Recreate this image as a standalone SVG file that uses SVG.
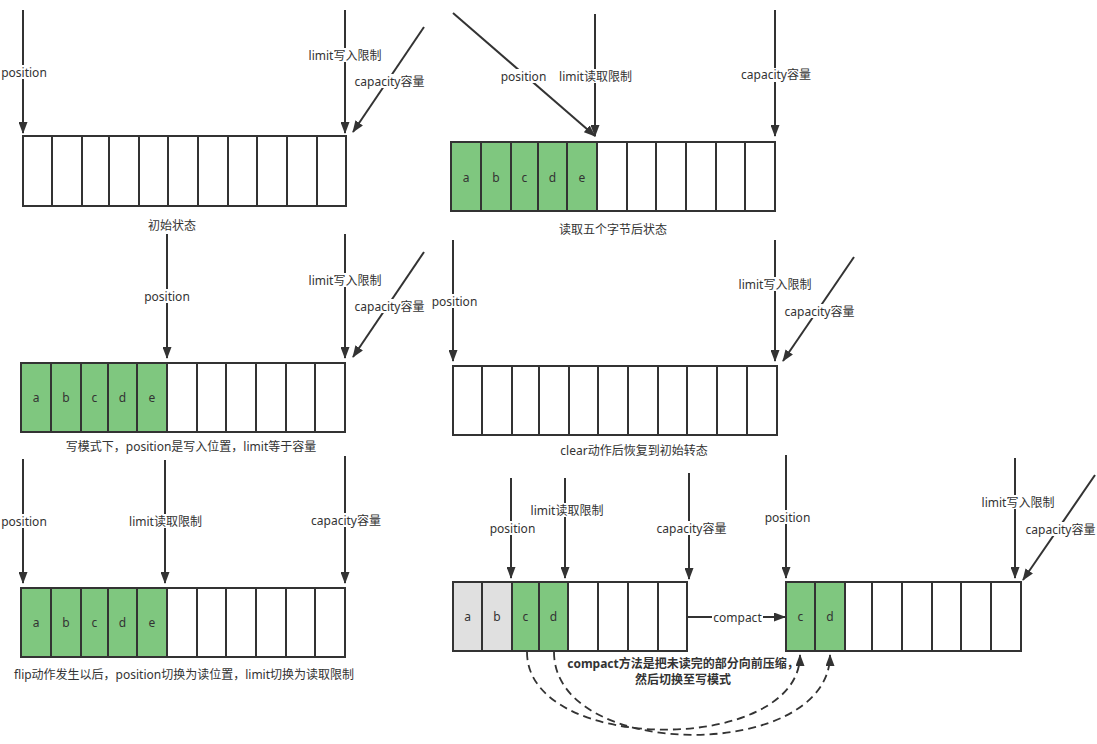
<svg xmlns="http://www.w3.org/2000/svg" width="1097" height="744" viewBox="0 0 1097 744">
<style>
text{font-family:"Noto Sans","Noto Sans CJK SC",sans-serif;font-size:12px;fill:#333;text-anchor:middle;dominant-baseline:central}
.b{font-weight:bold}
.cell{fill:#fff;stroke:#333;stroke-width:2}
.g{fill:#7FC77F}
.gr{fill:#E0E0E0}
.ln{fill:none;stroke:#333;stroke-width:2;marker-end:url(#ah)}
.dash{fill:none;stroke:#333;stroke-width:1.8;stroke-dasharray:8 5;marker-end:url(#ah)}
.bg{fill:#fff}
</style>
<defs>
<marker id="ah" markerUnits="userSpaceOnUse" markerWidth="12" markerHeight="9" viewBox="0 0 12 9" refX="11" refY="4.5" orient="auto"><path d="M0,0 L12,4.5 L0,9 z" fill="#333"/></marker>
</defs>
<rect width="1097" height="744" fill="#fff"/>

<g id="connectors">
<!-- panel 1 -->
<path class="ln" d="M23,10 V133"/>
<path class="ln" d="M345,10 V133"/>
<path class="ln" d="M424,27 L353,132"/>
<!-- panel 2 -->
<path class="ln" d="M453,13 L595,136"/>
<path class="ln" d="M595,14 V136"/>
<path class="ln" d="M775,10 V136"/>
<!-- panel 3 -->
<path class="ln" d="M167,234 V358"/>
<path class="ln" d="M345,234 V358"/>
<path class="ln" d="M424,252 L353,357"/>
<!-- panel 4 -->
<path class="ln" d="M453,240 V361"/>
<path class="ln" d="M775,240 V361"/>
<path class="ln" d="M854,257 L783,361"/>
<!-- panel 5 -->
<path class="ln" d="M23,459 V583"/>
<path class="ln" d="M165,460 V583"/>
<path class="ln" d="M345,456 V583"/>
<!-- panel 6 -->
<path class="ln" d="M511,478 V578"/>
<path class="ln" d="M565,478 V578"/>
<path class="ln" d="M689,473 V579"/>
<!-- panel 7 -->
<path class="ln" d="M786,455 V578"/>
<path class="ln" d="M1015,458 V578"/>
<path class="ln" d="M1095,475 L1023,580"/>
<!-- compact -->
<path class="ln" d="M687,617 H785"/>
<path class="dash" d="M527,652 C527,755 800,755 800,655"/>
<path class="dash" d="M554,652 C554,762 830,762 830,655"/>

<!-- labels -->
<rect class="bg" x="1" y="65" width="46" height="14"/><text x="24" y="72">position</text>
<rect class="bg" x="309" y="48" width="72" height="14"/><text x="345" y="55.5">limit写入限制</text>
<rect class="bg" x="354" y="74" width="71" height="14"/><text x="389.5" y="81">capacity容量</text>
<rect class="bg" x="500" y="69" width="47" height="14"/><text x="523.5" y="76">position</text>
<rect class="bg" x="559" y="69" width="73" height="14"/><text x="595.5" y="76">limit读取限制</text>
<rect class="bg" x="741" y="68" width="71" height="14"/><text x="776" y="74.5">capacity容量</text>
<rect class="bg" x="144" y="289" width="46" height="14"/><text x="167" y="296">position</text>
<rect class="bg" x="309" y="273" width="72" height="14"/><text x="345" y="280.5">limit写入限制</text>
<rect class="bg" x="354" y="299" width="71" height="14"/><text x="389.5" y="306">capacity容量</text>
<rect class="bg" x="431" y="294" width="47" height="14"/><text x="454.5" y="301">position</text>
<rect class="bg" x="739" y="277" width="72" height="14"/><text x="775" y="284">limit写入限制</text>
<rect class="bg" x="784" y="304" width="71" height="14"/><text x="819.5" y="311">capacity容量</text>
<rect class="bg" x="1" y="514" width="46" height="14"/><text x="24" y="521">position</text>
<rect class="bg" x="129" y="514" width="73" height="14"/><text x="165.5" y="521.5">limit读取限制</text>
<rect class="bg" x="310" y="513" width="71" height="14"/><text x="346" y="520">capacity容量</text>
<rect class="bg" x="489" y="521" width="47" height="14"/><text x="512.5" y="528">position</text>
<rect class="bg" x="530" y="503" width="74" height="14"/><text x="567" y="510.5">limit读取限制</text>
<rect class="bg" x="656" y="521" width="71" height="14"/><text x="691.5" y="528">capacity容量</text>
<rect class="bg" x="764" y="510" width="47" height="14"/><text x="787.5" y="517">position</text>
<rect class="bg" x="982" y="495" width="72" height="14"/><text x="1018" y="502.5">limit写入限制</text>
<rect class="bg" x="1025" y="522" width="71" height="14"/><text x="1060.5" y="529">capacity容量</text>
<rect class="bg" x="712" y="610" width="51" height="14"/><text x="737.5" y="617">compact</text>
</g>

<g id="buffer-initial">
<rect class="cell" x="23" y="136" width="29" height="70"/><rect class="cell" x="52" y="136" width="30" height="70"/><rect class="cell" x="82" y="136" width="27" height="70"/><rect class="cell" x="109" y="136" width="30" height="70"/><rect class="cell" x="139" y="136" width="29" height="70"/><rect class="cell" x="168" y="136" width="30" height="70"/><rect class="cell" x="198" y="136" width="30" height="70"/><rect class="cell" x="228" y="136" width="29" height="70"/><rect class="cell" x="257" y="136" width="30" height="70"/><rect class="cell" x="287" y="136" width="30" height="70"/><rect class="cell" x="317" y="136" width="29" height="70"/>
<text x="172" y="225">初始状态</text>
</g>

<g id="buffer-read5">
<rect class="cell g" x="451" y="142" width="30" height="69"/><rect class="cell g" x="481" y="142" width="30" height="69"/><rect class="cell g" x="511" y="142" width="27" height="69"/><rect class="cell g" x="538" y="142" width="29" height="69"/><rect class="cell g" x="567" y="142" width="30" height="69"/><rect class="cell" x="597" y="142" width="30" height="69"/><rect class="cell" x="627" y="142" width="29" height="69"/><rect class="cell" x="656" y="142" width="30" height="69"/><rect class="cell" x="686" y="142" width="30" height="69"/><rect class="cell" x="716" y="142" width="29" height="69"/><rect class="cell" x="745" y="142" width="30" height="69"/>
<text x="466" y="177">a</text><text x="496" y="177">b</text><text x="524.5" y="177">c</text><text x="552.5" y="177">d</text><text x="582" y="177">e</text>
<text x="613" y="229">读取五个字节后状态</text>
</g>

<g id="buffer-write">
<rect class="cell g" x="21" y="363" width="30" height="69"/><rect class="cell g" x="51" y="363" width="30" height="69"/><rect class="cell g" x="81" y="363" width="27" height="69"/><rect class="cell g" x="108" y="363" width="29" height="69"/><rect class="cell g" x="137" y="363" width="30" height="69"/><rect class="cell" x="167" y="363" width="30" height="69"/><rect class="cell" x="197" y="363" width="29" height="69"/><rect class="cell" x="226" y="363" width="30" height="69"/><rect class="cell" x="256" y="363" width="30" height="69"/><rect class="cell" x="286" y="363" width="29" height="69"/><rect class="cell" x="315" y="363" width="30" height="69"/>
<text x="36" y="397.5">a</text><text x="66" y="397.5">b</text><text x="94.5" y="397.5">c</text><text x="122.5" y="397.5">d</text><text x="152" y="397.5">e</text>
<text x="191" y="446">写模式下，position是写入位置，limit等于容量</text>
</g>

<g id="buffer-clear">
<rect class="cell" x="453" y="366" width="29" height="69"/><rect class="cell" x="482" y="366" width="30" height="69"/><rect class="cell" x="512" y="366" width="27" height="69"/><rect class="cell" x="539" y="366" width="30" height="69"/><rect class="cell" x="569" y="366" width="29" height="69"/><rect class="cell" x="598" y="366" width="30" height="69"/><rect class="cell" x="628" y="366" width="30" height="69"/><rect class="cell" x="658" y="366" width="29" height="69"/><rect class="cell" x="687" y="366" width="30" height="69"/><rect class="cell" x="717" y="366" width="30" height="69"/><rect class="cell" x="747" y="366" width="30" height="69"/>
<text x="634" y="450">clear动作后恢复到初始转态</text>
</g>

<g id="buffer-flip">
<rect class="cell g" x="21" y="588" width="30" height="69"/><rect class="cell g" x="51" y="588" width="30" height="69"/><rect class="cell g" x="81" y="588" width="27" height="69"/><rect class="cell g" x="108" y="588" width="29" height="69"/><rect class="cell g" x="137" y="588" width="30" height="69"/><rect class="cell" x="167" y="588" width="30" height="69"/><rect class="cell" x="197" y="588" width="29" height="69"/><rect class="cell" x="226" y="588" width="30" height="69"/><rect class="cell" x="256" y="588" width="30" height="69"/><rect class="cell" x="286" y="588" width="29" height="69"/><rect class="cell" x="315" y="588" width="30" height="69"/>
<text x="36" y="622.5">a</text><text x="66" y="622.5">b</text><text x="94.5" y="622.5">c</text><text x="122.5" y="622.5">d</text><text x="152" y="622.5">e</text>
<text x="184" y="674.5">flip动作发生以后，position切换为读位置，limit切换为读取限制</text>
</g>

<g id="buffer-before-compact">
<rect class="cell gr" x="453" y="582" width="29" height="69"/><rect class="cell gr" x="482" y="582" width="30" height="69"/><rect class="cell g" x="512" y="582" width="27" height="69"/><rect class="cell g" x="539" y="582" width="29" height="69"/><rect class="cell" x="568" y="582" width="30" height="69"/><rect class="cell" x="598" y="582" width="30" height="69"/><rect class="cell" x="628" y="582" width="30" height="69"/><rect class="cell" x="658" y="582" width="29" height="69"/>
<text x="467.5" y="616.5">a</text><text x="497" y="616.5">b</text><text x="525.5" y="616.5">c</text><text x="553.5" y="616.5">d</text>
</g>

<g id="buffer-after-compact">
<rect class="cell g" x="786" y="582" width="29" height="69"/><rect class="cell g" x="815" y="582" width="30" height="69"/><rect class="cell" x="845" y="582" width="27" height="69"/><rect class="cell" x="872" y="582" width="30" height="69"/><rect class="cell" x="902" y="582" width="30" height="69"/><rect class="cell" x="932" y="582" width="29" height="69"/><rect class="cell" x="961" y="582" width="30" height="69"/><rect class="cell" x="991" y="582" width="30" height="69"/>
<text x="800.5" y="616.5">c</text><text x="830" y="616.5">d</text>
</g>

<g id="compact-note">
<text class="b" x="683" y="663">compact方法是把未读完的部分向前压缩，</text>
<text class="b" x="683" y="679.5">然后切换至写模式</text>
</g>
</svg>
